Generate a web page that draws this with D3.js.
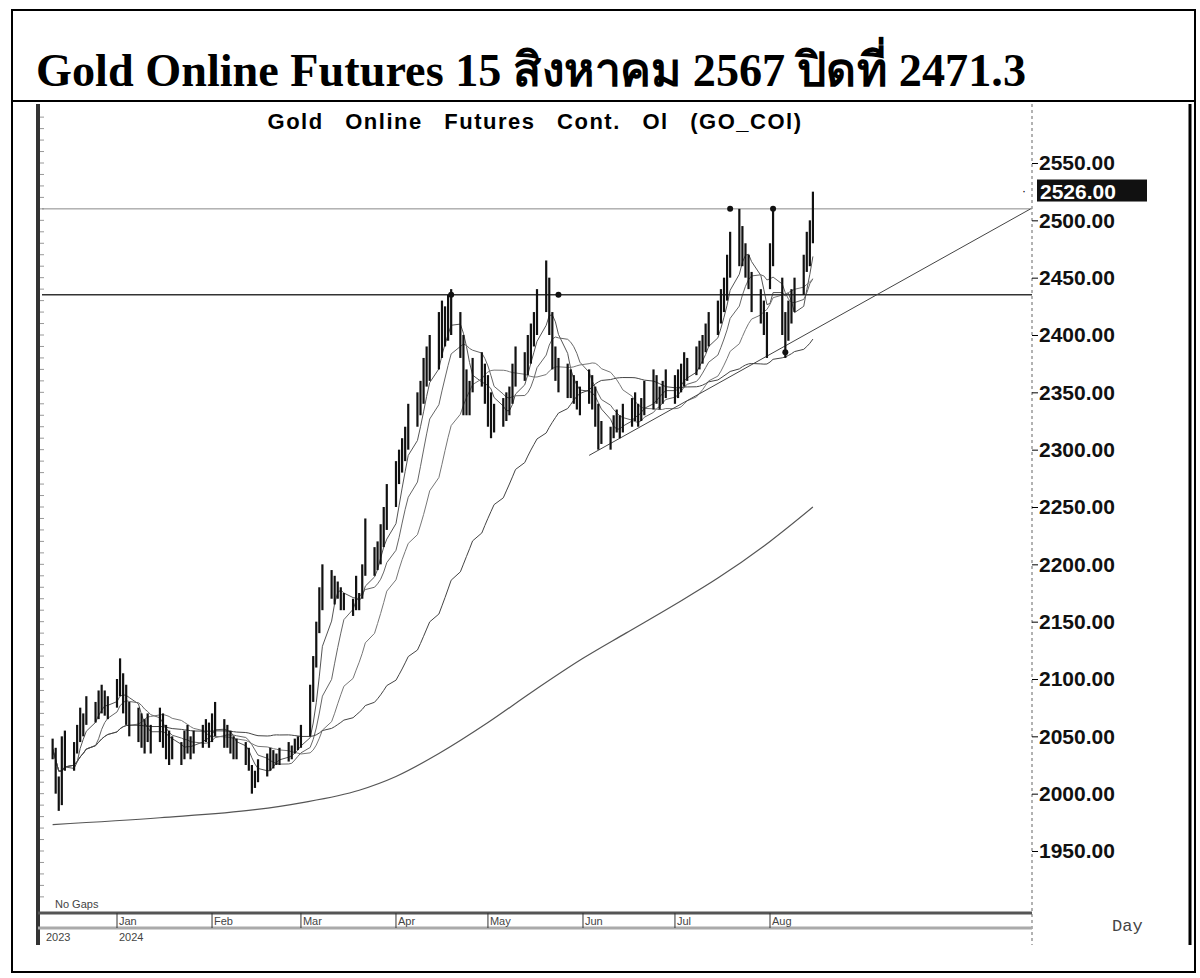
<!DOCTYPE html>
<html>
<head>
<meta charset="utf-8">
<title>Gold Online Futures</title>
<script src="https://cdn.jsdelivr.net/npm/d3@7/dist/d3.min.js"></script>
<style>body{margin:0;background:#fff}</style>
</head>
<body>
<script>
// daily [high, low] bars, Dec 11 2023 .. Aug 15 2024 (weekdays)
var barsDec = [[2048,2030],[2040,2000],[2015,1985],[2050,1990],[2055,2020],[2045,2020],[2060,2035],[2075,2045],[2070,2050],[2085,2060],[2080,2062],[2090,2065],[2095,2070],[2090,2068],[2085,2065]];
var barsJan = [[2100,2075],[2118,2085],[2105,2070],[2095,2060],[2080,2050],[2075,2045],[2070,2040],[2065,2035],[2070,2045],[2060,2035],[2075,2045],[2070,2040],[2060,2030],[2055,2025],[2050,2030],[2045,2025],[2055,2030],[2060,2035],[2050,2030],[2055,2035],[2060,2040],[2065,2045],[2062,2040]];
var barsFeb = [[2070,2045],[2080,2050],[2065,2040],[2060,2040],[2055,2035],[2050,2030],[2048,2030],[2045,2025],[2040,2020],[2025,2000],[2020,2005],[2030,2010],[2035,2015],[2040,2020],[2038,2022],[2035,2025],[2040,2025],[2045,2028],[2042,2030],[2048,2035],[2050,2038]];
var barsMar = [[2060,2040],[2095,2050],[2120,2080],[2150,2110],[2180,2140],[2200,2160],[2195,2170],[2190,2165],[2185,2170],[2180,2160],[2175,2160],[2170,2155],[2190,2160],[2175,2160],[2200,2170],[2240,2190],[2215,2190],[2220,2195],[2235,2200],[2250,2215],[2270,2230]];
var barsApr = [[2290,2250],[2300,2270],[2310,2280],[2320,2290],[2340,2300],[2350,2320],[2360,2330],[2380,2340],[2390,2355],[2400,2360],[2420,2370],[2430,2380],[2425,2390],[2435,2395],[2440,2400],[2420,2380],[2400,2330],[2370,2330],[2360,2330],[2380,2350],[2385,2355],[2375,2340]];
var barsMay = [[2365,2320],[2350,2310],[2340,2315],[2345,2320],[2350,2325],[2355,2330],[2375,2340],[2390,2355],[2385,2360],[2400,2365],[2410,2375],[2420,2390],[2440,2400],[2465,2420],[2450,2400],[2420,2370],[2390,2360],[2380,2350],[2375,2345],[2370,2345],[2365,2340],[2360,2335],[2355,2330]];
var barsJun = [[2370,2340],[2365,2335],[2355,2320],[2340,2300],[2325,2305],[2320,2300],[2330,2310],[2335,2315],[2330,2310],[2340,2315],[2345,2320],[2350,2325],[2340,2320],[2345,2325],[2360,2330],[2370,2335],[2365,2340],[2355,2335],[2360,2340],[2370,2345]];
var barsJul = [[2365,2340],[2370,2345],[2375,2350],[2385,2355],[2380,2360],[2390,2365],[2395,2370],[2400,2375],[2410,2385],[2420,2390],[2430,2400],[2440,2410],[2450,2420],[2470,2430],[2490,2450],[2510,2460],[2495,2460],[2480,2450],[2470,2440],[2455,2420],[2440,2410],[2430,2400],[2420,2380]];
var barsAug = [[2480,2440],[2510,2460],[2450,2400],[2420,2380],[2430,2395],[2440,2410],[2450,2420],[2470,2435],[2490,2455],[2500,2460],[2525,2480]];

// 200-day average
var ma200 = [["2023-12-11",1973],["2024-01-15",1979],["2024-02-15",1986],["2024-03-01",1992],["2024-03-20",2003],["2024-04-01",2015],["2024-04-15",2035],["2024-05-01",2062],["2024-05-15",2088],["2024-06-01",2118],["2024-06-15",2140],["2024-07-01",2165],["2024-07-15",2188],["2024-08-01",2220],["2024-08-15",2250]];
var priceTicks = [1950,2000,2050,2100,2150,2200,2250,2300,2350,2400,2450,2500,2550];
var months = ["Jan","Feb","Mar","Apr","May","Jun","Jul","Aug"];
var hLines = [{v:2510, w:1, c:"#888"}, {v:2435, w:1.5, c:"#333"}];
var trend = [["2024-06-03",2295],["2024-10-25",2510]];
var pivots = [["2024-04-19",2435],["2024-05-24",2435],["2024-07-19",2510],["2024-08-02",2510],["2024-08-06",2385]];
var lastPrice = "2526.00";
var maWindows = [5, 10, 20, 50];

var W = 1200, H = 978;
var svg = d3.select("body").append("svg").attr("width", W).attr("height", H)
  .style("font-family", "Arial, Liberation Sans, sans-serif");

// dates for bars
var all = [].concat(barsDec, barsJan, barsFeb, barsMar, barsApr, barsMay, barsJun, barsJul, barsAug);
var days = [], d = new Date(2023, 11, 11);
while (days.length < all.length) {
  if (d.getDay() != 0 && d.getDay() != 6) days.push(new Date(d));
  d.setDate(d.getDate() + 1);
}
var data = all.map(function(b, i) { return {date: days[i], hi: b[0], lo: b[1], mid: (b[0] + b[1]) / 2}; });
var parse = d3.timeParse("%Y-%m-%d");

var x = d3.scaleTime().domain([new Date(2024,0,1), new Date(2024,7,1)]).range([117, 770]);
var y = d3.scaleLinear().domain([1950, 2550]).range([851, 163]);

// outer frame
svg.append("rect").attr("x", 12).attr("y", 10).attr("width", 1183).attr("height", 962)
  .attr("fill", "none").attr("stroke", "#000").attr("stroke-width", 2);
svg.append("line").attr("x1", 12).attr("x2", 1195).attr("y1", 101).attr("y2", 101).attr("stroke", "#000").attr("stroke-width", 2);
svg.append("text").attr("x", 36).attr("y", 86)
  .style("font-family", "Liberation Serif, Times New Roman, serif").style("font-weight", "bold").style("font-size", "47px")
  .attr("textLength", 990).attr("lengthAdjust", "spacingAndGlyphs")
  .text("Gold Online Futures 15 สิงหาคม 2567 ปิดที่ 2471.3");

// chart frame
svg.append("line").attr("x1", 38).attr("x2", 38).attr("y1", 104).attr("y2", 945).attr("stroke", "#333").attr("stroke-width", 4);
svg.append("line").attr("x1", 1190).attr("x2", 1190).attr("y1", 104).attr("y2", 945).attr("stroke", "#000").attr("stroke-width", 3);
svg.append("line").attr("x1", 1032).attr("x2", 1032).attr("y1", 104).attr("y2", 945).attr("stroke", "#999").attr("stroke-width", 1.5).attr("stroke-dasharray", "3,3");
svg.append("line").attr("x1", 38).attr("x2", 1032).attr("y1", 913).attr("y2", 913).attr("stroke", "#555").attr("stroke-width", 3);
svg.append("line").attr("x1", 38).attr("x2", 1032).attr("y1", 928).attr("y2", 928).attr("stroke", "#aaa").attr("stroke-width", 3);
// small ticks on left border
var minor = d3.range(1910, 2600, 10);
svg.selectAll(".lt").data(minor).enter().append("line")
  .attr("x1", 40).attr("x2", 44).attr("y1", function(v){return y(v);}).attr("y2", function(v){return y(v);})
  .attr("stroke", "#999");

svg.append("text").attr("x", 535).attr("y", 129).attr("text-anchor", "middle")
  .style("font-weight", "bold").style("font-size", "22px").style("letter-spacing", "1.5px").style("word-spacing", "14px")
  .text("Gold Online Futures Cont. Ol (GO_COl)");

// right axis
var yAxis = d3.axisRight(y).tickValues(priceTicks).tickSize(6).tickFormat(d3.format(".2f"));
var ga = svg.append("g").attr("transform", "translate(1032,0)").call(yAxis);
ga.select(".domain").remove();
ga.selectAll("text").style("font-size", "21px").style("font-weight", "bold").attr("x", 7).attr("fill", "#111");

// bottom month axis
var monthDates = months.map(function(m, i){ return new Date(2024, i, 1); });
var gm = svg.append("g");
gm.selectAll("line").data(monthDates).enter().append("line")
  .attr("x1", function(v){return x(v);}).attr("x2", function(v){return x(v);})
  .attr("y1", 913).attr("y2", 928).attr("stroke", "#333");
gm.selectAll("text").data(monthDates).enter().append("text")
  .attr("x", function(v){return x(v) + 2;}).attr("y", 925).style("font-size", "11px").attr("fill", "#444")
  .text(function(v, i){ return months[i]; });
svg.append("text").attr("x", 46).attr("y", 941).style("font-size", "11px").attr("fill", "#444").text("2023");
svg.append("text").attr("x", 119).attr("y", 941).style("font-size", "11px").attr("fill", "#444").text("2024");
svg.append("text").attr("x", 55).attr("y", 908).style("font-size", "11px").attr("fill", "#444").text("No Gaps");
svg.append("text").attr("x", 1112).attr("y", 931).style("font-family", "Liberation Mono, monospace").style("font-size", "17px").attr("fill", "#444").text("Day");

// moving averages from the bars
var line = d3.line().x(function(p){return x(p[0]);}).y(function(p){return y(p[1]);});
maWindows.forEach(function(n, k) {
  var pts = data.map(function(p, i) {
    var s = data.slice(Math.max(0, i - n + 1), i + 1);
    return [p.date, d3.mean(s, function(q){return q.mid;})];
  });
  svg.append("path").attr("d", line(pts)).attr("fill", "none")
    .attr("stroke", ["#555", "#666", "#777", "#444"][k]).attr("stroke-width", 1);
});
svg.append("path").attr("d", line.curve(d3.curveMonotoneX)(ma200.map(function(p){return [parse(p[0]), p[1]];})))
  .attr("fill", "none").attr("stroke", "#555").attr("stroke-width", 1.2);
line.curve(d3.curveLinear);

// horizontal lines and trendline
hLines.forEach(function(h) {
  svg.append("line").attr("x1", 42).attr("x2", 1032).attr("y1", y(h.v)).attr("y2", y(h.v))
    .attr("stroke", h.c).attr("stroke-width", h.w);
});
svg.append("path").attr("d", line(trend.map(function(p){return [parse(p[0]), p[1]];})))
  .attr("stroke", "#444").attr("stroke-width", 1).attr("fill", "none");

// price bars
svg.selectAll(".bar").data(data).enter().append("line")
  .attr("x1", function(p){return x(p.date);}).attr("x2", function(p){return x(p.date);})
  .attr("y1", function(p){return y(p.hi);}).attr("y2", function(p){return y(p.lo);})
  .attr("stroke", "#111").attr("stroke-width", 2.2);

svg.selectAll(".pv").data(pivots).enter().append("circle")
  .attr("cx", function(p){return x(parse(p[0]));}).attr("cy", function(p){return y(p[1]);})
  .attr("r", 3).attr("fill", "#111");

// last price box
svg.append("rect").attr("x", 1037).attr("y", y(2526) - 11).attr("width", 110).attr("height", 22).attr("fill", "#111");
svg.append("text").attr("x", 1040).attr("y", y(2526) + 8).style("font-size", "21px").style("font-weight", "bold")
  .attr("fill", "#fff").text(lastPrice);
svg.append("text").attr("x", 1022).attr("y", y(2526) + 4).style("font-size", "12px").text("·");
</script>
</body>
</html>
